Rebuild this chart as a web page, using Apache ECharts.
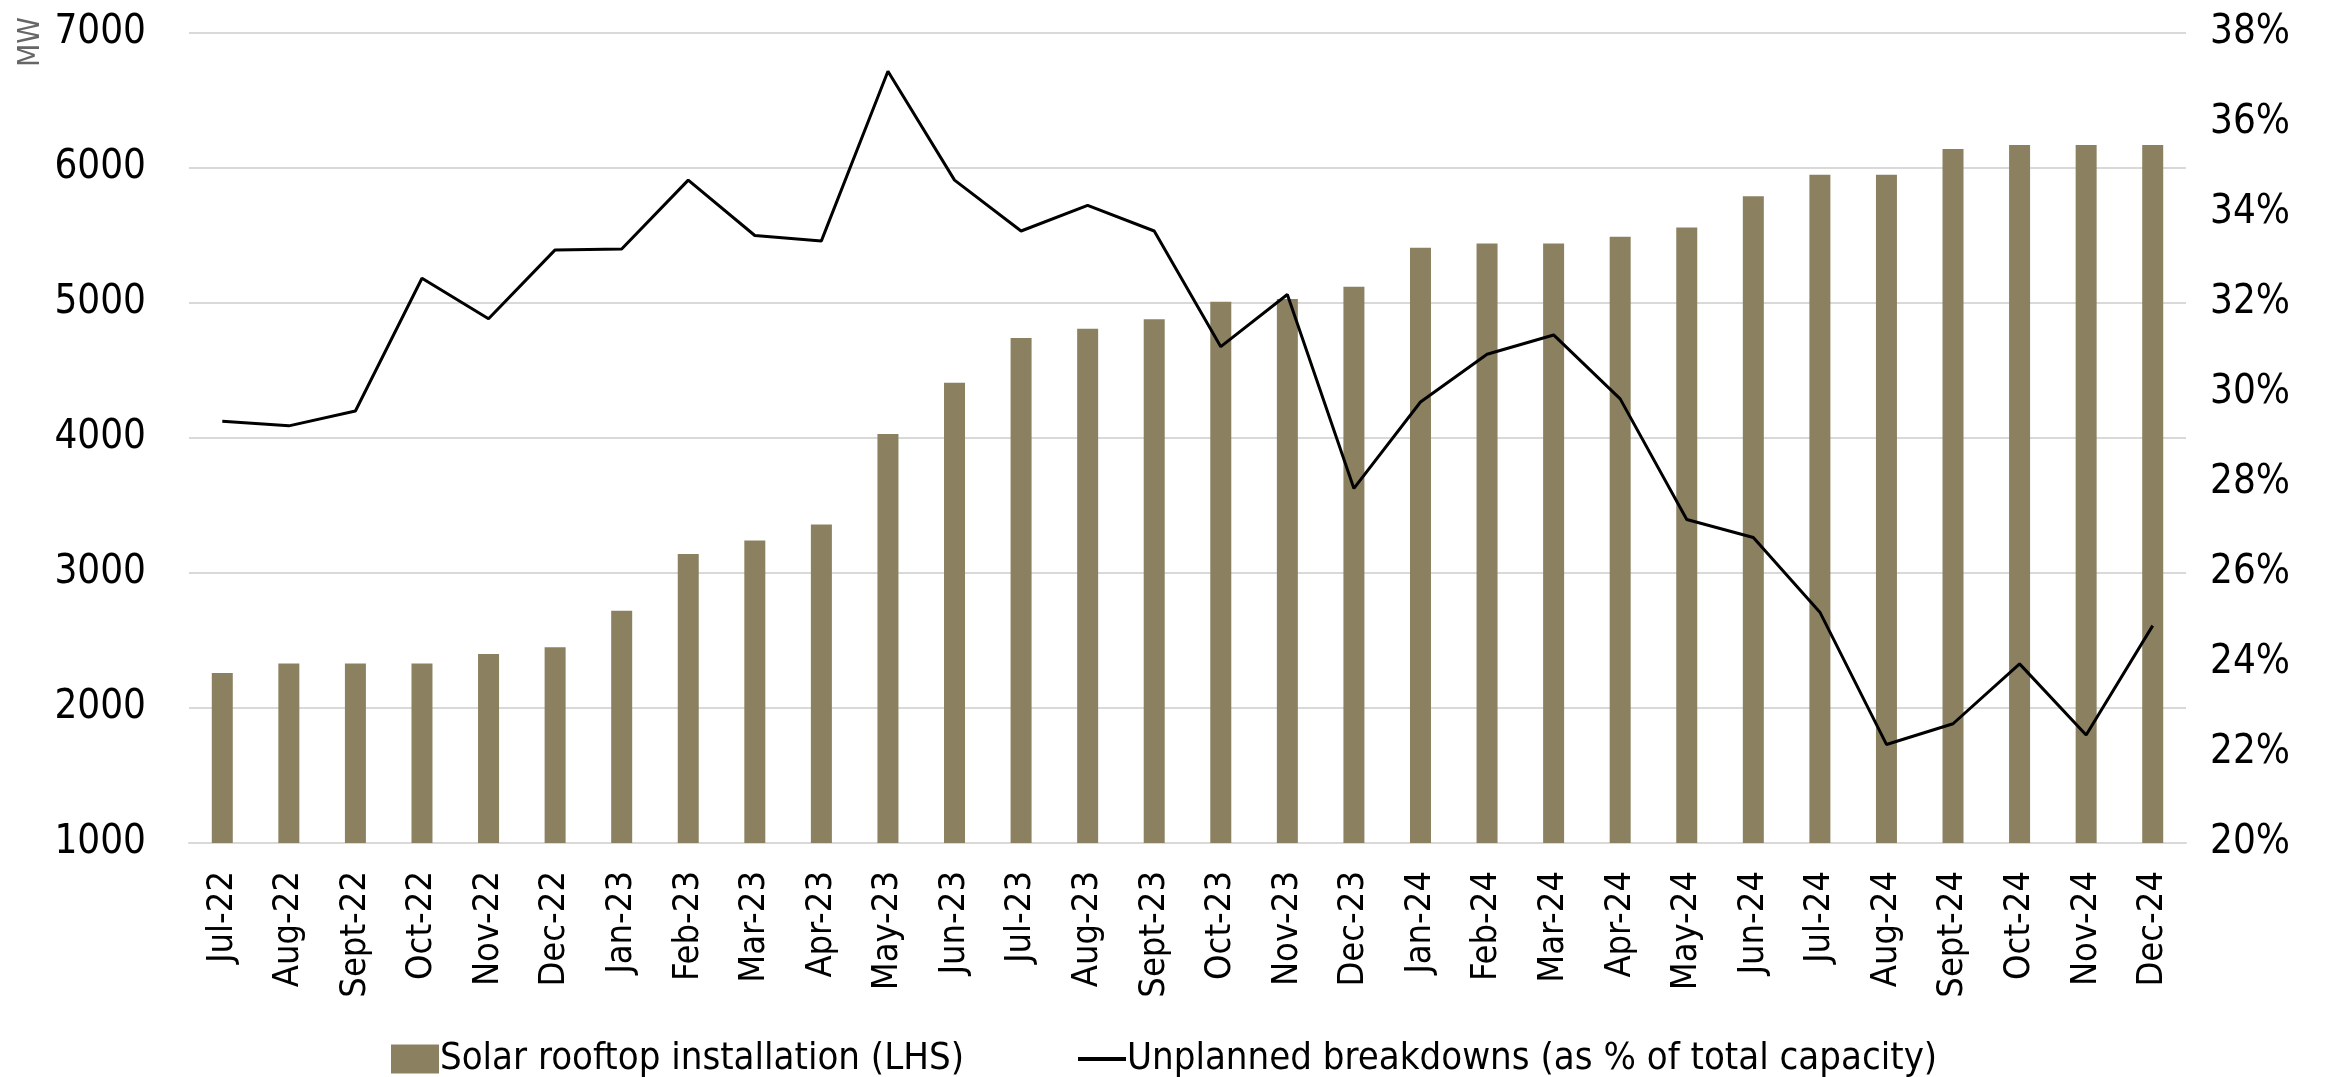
<!DOCTYPE html>
<html>
<head>
<meta charset="utf-8">
<script src="https://cdn.jsdelivr.net/npm/echarts@6/dist/echarts.min.js"></script>
<style>
	html, body { margin: 0; padding: 0; background: #fff; }
	#chart { width: 2336px; height: 1077px; }
</style>
</head>
<body>
<div id="chart"></div>
<script>
	var months = ['Jul-22', 'Aug-22', 'Sept-22', 'Oct-22', 'Nov-22', 'Dec-22', 'Jan-23', 'Feb-23', 'Mar-23', 'Apr-23',
		'May-23', 'Jun-23', 'Jul-23', 'Aug-23', 'Sept-23', 'Oct-23', 'Nov-23', 'Dec-23', 'Jan-24', 'Feb-24',
		'Mar-24', 'Apr-24', 'May-24', 'Jun-24', 'Jul-24', 'Aug-24', 'Sept-24', 'Oct-24', 'Nov-24', 'Dec-24']

	// solar rooftop installation, MW (LHS)
	var solarMW = [2260, 2330, 2330, 2330, 2400, 2450, 2720, 3140, 3240, 3360,
		4030, 4410, 4740, 4810, 4880, 5010, 5030, 5120, 5410, 5440,
		5440, 5490, 5560, 5790, 5950, 5950, 6140, 6170, 6170, 6170]

	// unplanned breakdowns, % of total capacity (RHS)
	var breakdownPct = [29.37, 29.27, 29.6, 32.55, 31.65, 33.18, 33.2, 34.73, 33.5, 33.38,
		37.15, 34.73, 33.6, 34.17, 33.6, 31.03, 32.19, 27.88, 29.8, 30.86,
		31.29, 29.87, 27.19, 26.79, 25.13, 22.19, 22.65, 23.98, 22.4, 24.83]

	var seriesNames = ['Solar rooftop installation (LHS)', 'Unplanned breakdowns (as % of total capacity)']

	var fontName = "'Liberation Sans Narrow', 'DejaVu Sans Condensed', 'Roboto Condensed', sans-serif"
	var gridColor = '#d9d9d9'
	var barColor = '#8b8160'

	var chart = echarts.init(document.getElementById('chart'))
	chart.setOption({
		animation: false,
		textStyle: { fontFamily: fontName },
		grid: {
			left: 189,
			right: 150,
			top: 33,
			bottom: 234
		},
		graphic: [{
			type: 'text',
			x: 16,
			y: 67,
			rotation: Math.PI / 2,
			style: {
				text: 'MW',
				fill: '#666666',
				font: "30px " + fontName,
				textAlign: 'left',
				textVerticalAlign: 'top'
			}
		}],
		// two legends so each icon keeps its own size
		legend: [{
			bottom: -6,
			left: 386,
			itemWidth: 48,
			itemHeight: 29,
			textStyle: { fontSize: 38, color: '#000', fontFamily: fontName, padding: [0, 0, 0, -4] },
			data: [{ name: seriesNames[0], icon: 'rect' }]
		}, {
			bottom: -6,
			left: 1073,
			itemWidth: 48,
			itemHeight: 4,
			textStyle: { fontSize: 38, color: '#000', fontFamily: fontName, padding: [0, 0, 0, -4] },
			data: [{ name: seriesNames[1], icon: 'rect' }]
		}],
		xAxis: {
			type: 'category',
			data: months,
			axisLine: { lineStyle: { color: gridColor, width: 2 } },
			axisTick: { show: false },
			axisLabel: {
				rotate: 90,
				interval: 0,
				margin: 28,
				fontSize: 36,
				color: '#000'
			}
		},
		yAxis: [{
			type: 'value',
			min: 1000,
			max: 7000,
			interval: 1000,
			axisLine: { show: false },
			axisTick: { show: false },
			axisLabel: { fontSize: 40, color: '#000', margin: 43, formatter: function (v) { return String(v) } },
			splitLine: { lineStyle: { color: gridColor, width: 2 } }
		}, {
			type: 'value',
			min: 20,
			max: 38,
			interval: 2,
			axisLine: { show: false },
			axisTick: { show: false },
			axisLabel: { fontSize: 40, color: '#000', margin: 24, formatter: '{value}%' },
			splitLine: { show: false }
		}],
		series: [{
			name: seriesNames[0],
			type: 'bar',
			data: solarMW,
			barWidth: 21,
			itemStyle: { color: barColor }
		}, {
			name: seriesNames[1],
			type: 'line',
			yAxisIndex: 1,
			data: breakdownPct,
			symbol: 'none',
			lineStyle: { color: '#000', width: 3 },
			itemStyle: { color: '#000' },
			z: 5
		}]
	})
</script>
</body>
</html>
